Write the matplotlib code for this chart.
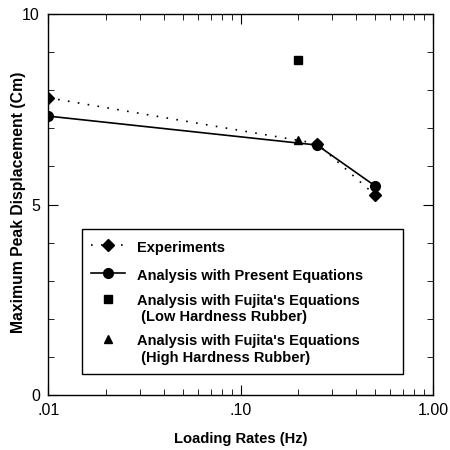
import matplotlib
matplotlib.use('Agg')
import matplotlib.pyplot as plt
from matplotlib.ticker import FixedLocator, LogLocator, NullFormatter

plt.rcParams['font.family'] = ['Liberation Sans', 'DejaVu Sans']

# data
exp_x = [0.01, 0.25, 0.5]
exp_y = [7.8, 6.6, 5.25]
present_x = [0.01, 0.25, 0.5]
present_y = [7.32, 6.56, 5.49]
low_x = [0.2]
low_y = [8.8]
high_x = [0.2]
high_y = [6.7]

labels = ["Experiments",
          "Analysis with Present Equations",
          "Analysis with Fujita's Equations\n (Low Hardness Rubber)",
          "Analysis with Fujita's Equations\n (High Hardness Rubber)"]

fig = plt.figure(figsize=(4.5, 4.5), dpi=100)
ax = fig.add_axes([0.107, 0.122, 0.855, 0.847])

ax.plot(exp_x, exp_y, color='black', linestyle=(0, (1, 5)), linewidth=1.2,
        marker='D', markersize=6, label=labels[0])
ax.plot(present_x, present_y, color='black', linestyle='-', linewidth=1.2,
        marker='o', markersize=7, label=labels[1])
ax.plot(low_x, low_y, color='black', linestyle='none',
        marker='s', markersize=6, label=labels[2])
ax.plot(high_x, high_y, color='black', linestyle='none',
        marker='^', markersize=6, label=labels[3])

ax.set_xscale('log')
ax.set_xlim(0.01, 1.0)
ax.set_ylim(0, 10)
ax.xaxis.set_major_locator(FixedLocator([0.01, 0.1, 1.0]))
ax.set_xticklabels(['.01', '.10', '1.00'])
ax.xaxis.set_minor_locator(LogLocator(base=10, subs=range(2, 10)))
ax.xaxis.set_minor_formatter(NullFormatter())
ax.set_yticks([0, 5, 10])
ax.set_yticks(range(0, 11), minor=True)

ax.tick_params(which='both', direction='in', top=True, right=True,
               labelsize=11.5, pad=6)
ax.tick_params(which='major', length=7)
ax.tick_params(which='minor', length=4)
for s in ax.spines.values():
    s.set_linewidth(1.0)

ax.set_xlabel('Loading Rates (Hz)', fontsize=10.6, fontweight='bold', labelpad=10)
ax.set_ylabel('Maximum Peak Displacement (Cm)', fontsize=11.3, fontweight='bold')
ax.yaxis.set_label_coords(-0.058, 0.507)

leg = ax.legend(loc='lower left', bbox_to_anchor=(0.088, 0.055, 0.834, 0.383),
                mode='expand', borderaxespad=0, fancybox=False, edgecolor='black',
                framealpha=1, prop={'weight': 'bold', 'size': 10.5}, handlelength=2.3,
                handleheight=1.5, handletextpad=0.8, labelspacing=0.7, borderpad=0.65)
leg.get_frame().set_linewidth(1.0)
# markers of the two-line entries sit level with the first line
for h in leg.legend_handles[2:]:
    h.set_ydata([y + 6.5 for y in h.get_ydata()])

fig.savefig('out.png', dpi=100)
